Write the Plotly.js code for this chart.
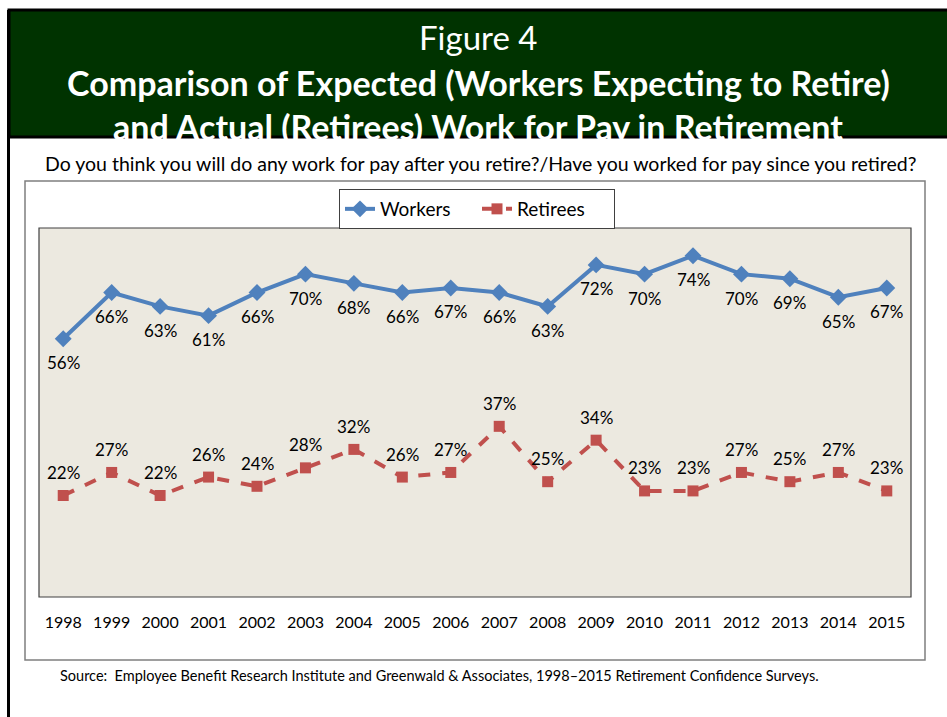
<!DOCTYPE html>
<html>
<head>
<meta charset="utf-8">
<script src="https://cdn.plot.ly/plotly-3.0.1.min.js"></script>
<style>html,body{margin:0;padding:0;background:#fff;}#chart{width:947px;height:717px;}</style>
</head>
<body>
<div id="chart"></div>
<script>
const years = ['1998','1999','2000','2001','2002','2003','2004','2005','2006','2007','2008','2009','2010','2011','2012','2013','2014','2015'];
const workers = [56,66,63,61,66,70,68,66,67,66,63,72,70,74,70,69,65,67];
const retirees = [22,27,22,26,24,28,32,26,27,37,25,34,23,23,27,25,27,23];

const L = 39, R = 911, T = 228, B = 597, W = 947, H = 717;
const px = x => (x - L) / (R - L);
const py = y => (B - y) / (B - T);
const FONT = 'Lato, Open Sans, sans-serif';

const traces = [
  {
    x: years, y: workers, name: 'Workers', type: 'scatter', mode: 'lines+markers',
    line: {color: '#4F81BD', width: 4},
    marker: {symbol: 'diamond', size: 13, color: '#4F81BD'}
  },
  {
    x: years, y: retirees, name: 'Retirees', type: 'scatter', mode: 'lines+markers',
    line: {color: '#C0504D', width: 4, dash: 'dash'},
    marker: {symbol: 'square', size: 11, color: '#C0504D'}
  }
];

const shapes = [
  {type: 'rect', xref: 'paper', yref: 'paper', x0: px(9), x1: px(952), y0: py(10), y1: py(137), fillcolor: '#003300', line: {color: '#000', width: 3}, layer: 'below'},
  {type: 'line', xref: 'paper', yref: 'paper', x0: px(8.5), x1: px(8.5), y0: py(10), y1: py(720), line: {color: '#000', width: 3}},
  {type: 'rect', xref: 'paper', yref: 'paper', x0: px(25), x1: px(925), y0: py(181), y1: py(660), fillcolor: 'rgba(0,0,0,0)', line: {color: '#7f7f7f', width: 1.5}},
  {type: 'rect', xref: 'paper', yref: 'paper', x0: 0, x1: 1, y0: 0, y1: 1, fillcolor: 'rgba(0,0,0,0)', line: {color: '#404040', width: 1.2}}
];

const annotations = [
  {text: 'Figure 4', x: px(478), xref: 'paper', xanchor: 'center', y: py(37), yref: 'paper', yanchor: 'middle', showarrow: false, font: {family: FONT, size: 33, color: '#fff'}},
  {text: '<b>Comparison of Expected (Workers Expecting to Retire)</b>', x: px(478), xref: 'paper', xanchor: 'center', y: py(82), yref: 'paper', yanchor: 'middle', showarrow: false, font: {family: FONT, size: 34, color: '#fff'}},
  {text: '<b>and Actual (Retirees) Work for Pay in Retirement</b>', x: px(478), xref: 'paper', xanchor: 'center', y: py(126), yref: 'paper', yanchor: 'middle', showarrow: false, font: {family: FONT, size: 34, color: '#fff'}},
  {text: 'Do you think you will do any work for pay after you retire?/Have you worked for pay since you retired?', x: px(480), xref: 'paper', xanchor: 'center', y: py(163), yref: 'paper', yanchor: 'middle', showarrow: false, font: {family: FONT, size: 19.5, color: '#000'}},
  {text: 'Source:  Employee Benefit Research Institute and Greenwald &amp; Associates, 1998\u20132015 Retirement Confidence Surveys.', x: px(58), xref: 'paper', xanchor: 'left', y: py(675), yref: 'paper', yanchor: 'middle', showarrow: false, font: {family: FONT, size: 14.5, color: '#000'}}
];

years.forEach((yr, i) => {
  annotations.push({x: i, y: workers[i], xref: 'x', yref: 'y', text: workers[i] + '%', showarrow: false,
    yshift: -24, font: {family: FONT, size: 17, color: '#000'}});
  annotations.push({x: i, y: retirees[i], xref: 'x', yref: 'y', text: retirees[i] + '%', showarrow: false,
    yshift: 23, font: {family: FONT, size: 17, color: '#000'}});
});

const layout = {
  width: W, height: H,
  margin: {l: L, r: W - R, t: T, b: H - B, pad: 0},
  paper_bgcolor: '#ffffff',
  plot_bgcolor: '#ECE9E0',
  showlegend: true,
  legend: {
    orientation: 'h', x: px(339), xanchor: 'left', y: py(189), yanchor: 'top',
    bgcolor: '#ffffff', bordercolor: '#404040', borderwidth: 1,
    entrywidth: 92, entrywidthmode: 'pixels',
    font: {family: FONT, size: 19, color: '#000'}
  },
  xaxis: {
    type: 'category', range: [-0.5, 17.5], showgrid: false, zeroline: false, showline: false,
    ticks: '', ticklabelstandoff: 14,
    tickfont: {family: FONT, size: 16, color: '#000'}, fixedrange: true
  },
  yaxis: {
    range: [0, 80], showgrid: false, zeroline: false, showline: false, showticklabels: false, ticks: '', fixedrange: true
  },
  shapes: shapes,
  annotations: annotations
};

Plotly.newPlot('chart', traces, layout, {displayModeBar: false, staticPlot: true});
</script>
</body>
</html>
